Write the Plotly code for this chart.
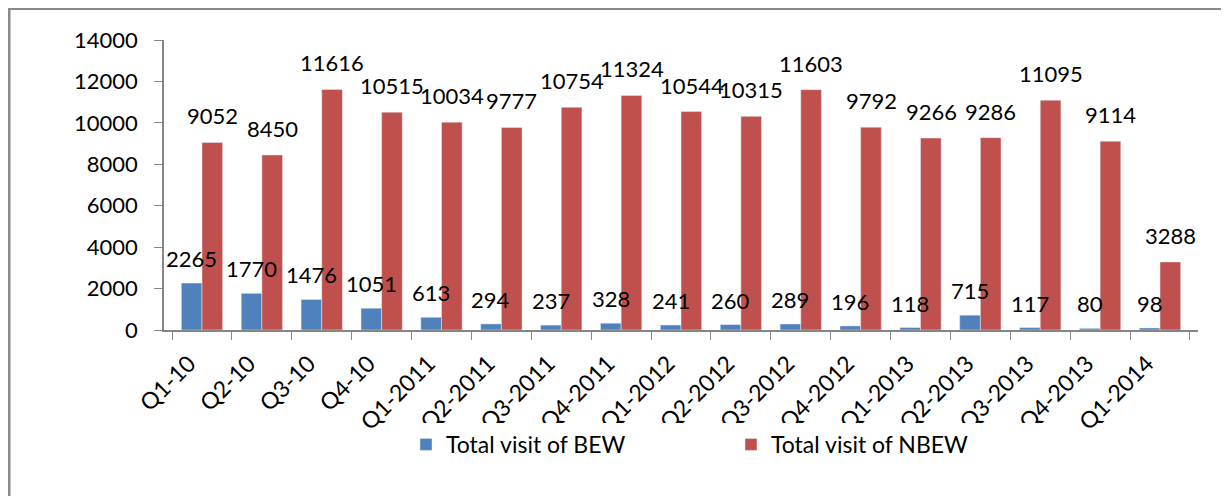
import plotly.graph_objects as go

categories = ["Q1-10", "Q2-10", "Q3-10", "Q4-10", "Q1-2011", "Q2-2011", "Q3-2011", "Q4-2011",
              "Q1-2012", "Q2-2012", "Q3-2012", "Q4-2012", "Q1-2013", "Q2-2013", "Q3-2013",
              "Q4-2013", "Q1-2014"]
bew = [2265, 1770, 1476, 1051, 613, 294, 237, 328, 241, 260, 289, 196, 118, 715, 117, 80, 98]
nbew = [9052, 8450, 11616, 10515, 10034, 9777, 10754, 11324, 10544, 10315, 11603, 9792, 9266,
        9286, 11095, 9114, 3288]
y_ticks = [0, 2000, 4000, 6000, 8000, 10000, 12000, 14000]

FONT = "Lato"
BLUE = "#4F81BD"
RED = "#C0504D"

fig = go.Figure()
fig.add_trace(go.Bar(x=categories, y=bew, name="Total visit of BEW", marker_color=BLUE))
fig.add_trace(go.Bar(x=categories, y=nbew, name="Total visit of NBEW", marker_color=RED))

annotations = []
for c, b, n in zip(categories, bew, nbew):
    annotations.append(dict(x=c, y=b, xref="x", yref="y", text=str(b), showarrow=False,
                            xshift=-10.5, yanchor="bottom", yshift=9,
                            font=dict(family=FONT, size=22, color="black")))
    annotations.append(dict(x=c, y=n, xref="x", yref="y", text=str(n), showarrow=False,
                            xshift=10.5, yanchor="bottom", yshift=11,
                            font=dict(family=FONT, size=22, color="black")))

# page has an 8px body margin; figure coordinates below are page coords minus 8
OFF = 8
W, H = 1229 - OFF, 496 - OFF
L, R, T, B = 164 - OFF, 1198 - OFF, 40 - OFF, 330 - OFF

def px(xp):
    return (xp - OFF - L) / (R - L)
def py(yp):
    return (B - (yp - OFF)) / (B - T)

shapes = [
    dict(type="line", xref="paper", yref="paper", x0=px(9), x1=px(9), y0=py(9), y1=py(520),
         line=dict(color="#8a8a8a", width=3)),
    dict(type="line", xref="paper", yref="paper", x0=px(8), x1=px(1228), y0=py(9), y1=py(9),
         line=dict(color="#8a8a8a", width=2)),
    dict(type="line", xref="paper", yref="paper", x0=px(1227.5), x1=px(1227.5), y0=py(9), y1=py(520),
         line=dict(color="#a6a6a6", width=1.5)),
]

fig.update_layout(
    width=W, height=H,
    margin=dict(l=L, r=W - R, t=T, b=H - B),
    plot_bgcolor="white", paper_bgcolor="white",
    barmode="group", bargap=0.31, bargroupgap=0,
    font=dict(family=FONT, size=20, color="black"),
    annotations=annotations,
    shapes=shapes,
    showlegend=True,
    legend=dict(orientation="h", x=px(406), y=py(423), xanchor="left", yanchor="top",
                entrywidth=280, entrywidthmode="pixels",
                font=dict(family=FONT, size=23, color="black")),
)
fig.update_xaxes(type="category", tickangle=-45, showline=True, linecolor="#868686", linewidth=2,
                 ticks="outside", tickson="boundaries", ticklen=8, tickcolor="#868686", tickwidth=1,
                 ticklabelstandoff=9, ticklabelshift=-13,
                 showgrid=False, tickfont=dict(family=FONT, size=23, color="black"))
fig.update_yaxes(range=[0, 14000], tickvals=y_ticks, ticktext=[str(v) for v in y_ticks],
                 showline=True, linecolor="#868686", linewidth=1.5,
                 ticks="outside", ticklen=8, tickcolor="#868686", tickwidth=1,
                 ticklabelstandoff=12,
                 showgrid=False, zeroline=False, tickfont=dict(family=FONT, size=22, color="black"))

fig.write_html("out.html")
